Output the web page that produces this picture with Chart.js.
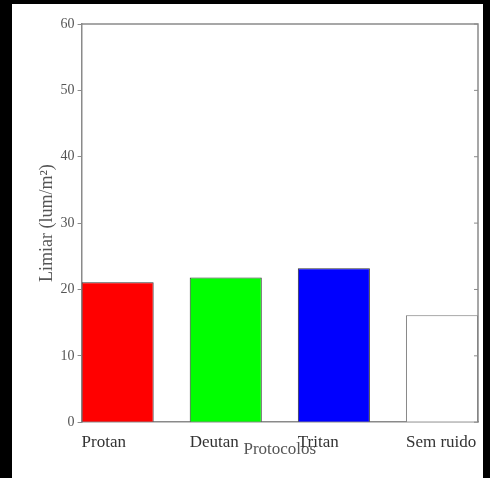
<!DOCTYPE html>
<html>
<head>
<meta charset="utf-8">
<script src="https://cdn.jsdelivr.net/npm/chart.js@4"></script>
<style>
  html, body { margin: 0; padding: 0; background: #000; }
  #frame { position: absolute; left: 12px; top: 4px; width: 471px; height: 474px; background: #fff; }
</style>
</head>
<body>
<div id="frame"><canvas id="chart" width="471" height="474"></canvas></div>
<script>
const categories = ['Protan', 'Deutan', 'Tritan', 'Sem ruido'];
const limiar = [21.1, 21.8, 23.2, 16.1];
const barColors = ['#ff0000', '#00ff00', '#0000ff', '#ffffff'];
const yTicks = [0, 10, 20, 30, 40, 50, 60];

const axisGray = '#8a8a8a';
const serif = "'Liberation Serif', 'DejaVu Serif', serif";

// top border and inward ticks on the right side
const boxPlugin = {
  id: 'box',
  afterDraw(chart) {
    const { ctx, chartArea } = chart;
    const y = chart.scales.y;
    ctx.save();
    ctx.strokeStyle = axisGray;
    ctx.lineWidth = 1.5;
    ctx.beginPath();
    ctx.moveTo(chartArea.left, chartArea.top);
    ctx.lineTo(chartArea.right, chartArea.top);
    ctx.lineTo(chartArea.right, chartArea.bottom);
    ctx.stroke();
    ctx.lineWidth = 1;
    yTicks.forEach(v => {
      const py = y.getPixelForValue(v);
      ctx.beginPath();
      ctx.moveTo(chartArea.right, py);
      ctx.lineTo(chartArea.right - 4, py);
      ctx.stroke();
    });
    ctx.restore();
  }
};

new Chart(document.getElementById('chart').getContext('2d'), {
  type: 'bar',
  data: {
    datasets: [{
      data: limiar.map((v, i) => ({ x: i, y: v })),
      backgroundColor: barColors,
      borderColor: ['#333', '#333', '#333', '#777'],
      borderWidth: 1,
      barPercentage: 1,
      categoryPercentage: 2 / 3
    }]
  },
  options: {
    responsive: false,
    animation: false,
    layout: { padding: { top: 20, right: 5, left: 24, bottom: 0 } },
    plugins: { legend: { display: false }, tooltip: { enabled: false } },
    scales: {
      x: {
        type: 'linear',
        offset: false,
        min: -1 / 3,
        max: 10 / 3,
        afterBuildTicks(scale) {
          scale.ticks = categories.map((c, i) => ({ value: i - 1 / 3 }));
        },
        ticks: {
          autoSkip: false,
          align: 'start',
          maxRotation: 0,
          padding: 2,
          color: '#333',
          font: { family: serif, size: 17 },
          callback: (v, i) => categories[i]
        },
        grid: { display: false },
        border: { display: true, color: axisGray, width: 1.5 },
        title: {
          display: true,
          text: 'Protocolos',
          color: '#555',
          font: { family: serif, size: 17 },
          padding: { top: -15, bottom: 18 }
        }
      },
      y: {
        min: 0,
        max: 60,
        afterBuildTicks(scale) {
          scale.ticks = yTicks.map(v => ({ value: v }));
        },
        ticks: {
          color: '#555',
          padding: 3,
          font: { family: serif, size: 14 }
        },
        grid: { drawOnChartArea: false, drawTicks: true, tickLength: 4, color: axisGray },
        border: { display: true, color: axisGray, width: 1.5 },
        title: {
          display: true,
          text: 'Limiar (lum/m²)',
          color: '#555',
          font: { family: serif, size: 18 },
          padding: { top: 0, bottom: 0 }
        }
      }
    }
  },
  plugins: [boxPlugin]
});
</script>
</body>
</html>
